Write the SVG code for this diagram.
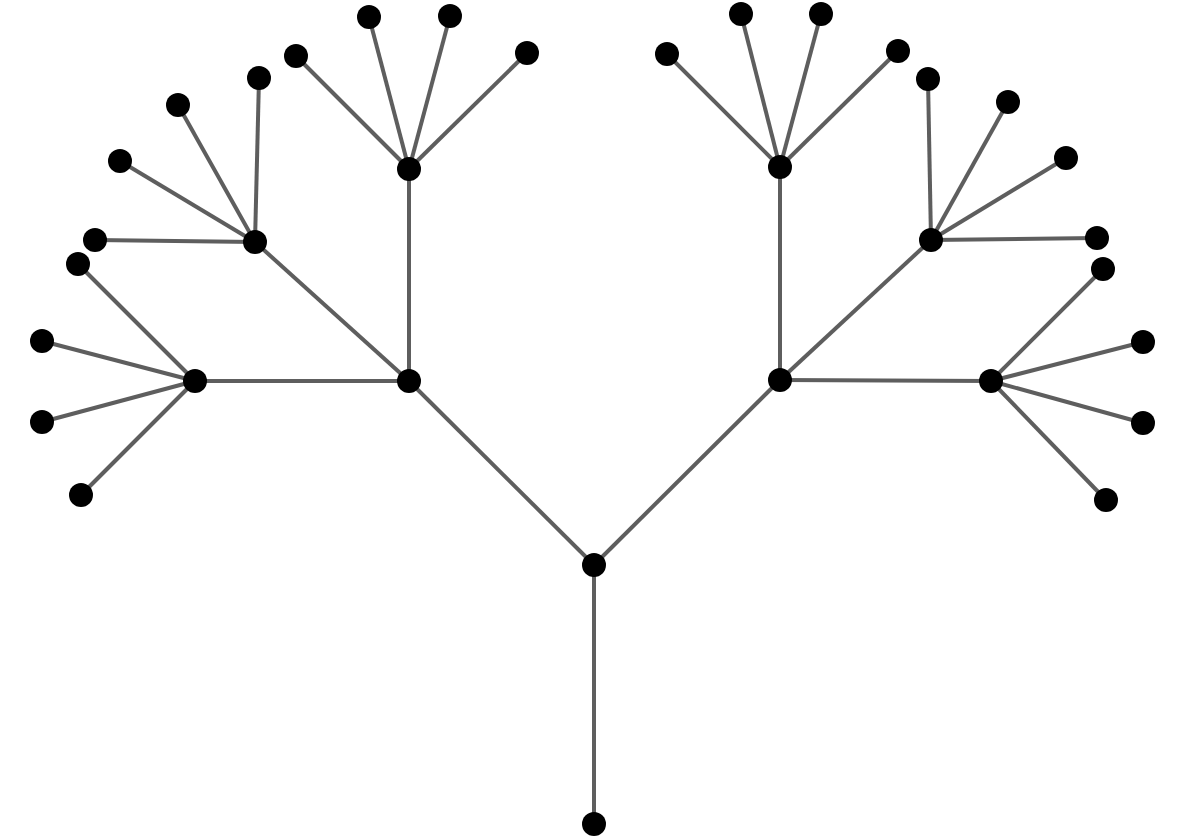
<svg xmlns="http://www.w3.org/2000/svg" width="1200" height="838" viewBox="0 0 1200 838">
<style>
.e{stroke:#5e5e5e;stroke-width:4;fill:none}
.n{fill:#000}
</style>
<rect width="1200" height="838" fill="#fff"/>
<g id="connectors" class="e">
<line x1="594" y1="824" x2="594" y2="565"/>
<line x1="594" y1="565" x2="409" y2="381"/>
<line x1="594" y1="565" x2="780" y2="380"/>
<line x1="409" y1="381" x2="409" y2="169"/>
<line x1="409" y1="381" x2="255" y2="242"/>
<line x1="409" y1="381" x2="195" y2="381"/>
<line x1="409" y1="169" x2="296" y2="56"/>
<line x1="409" y1="169" x2="369" y2="17"/>
<line x1="409" y1="169" x2="450" y2="16"/>
<line x1="409" y1="169" x2="527" y2="53"/>
<line x1="255" y1="242" x2="259" y2="78"/>
<line x1="255" y1="242" x2="178" y2="105"/>
<line x1="255" y1="242" x2="120" y2="161"/>
<line x1="255" y1="242" x2="95" y2="240"/>
<line x1="195" y1="381" x2="78" y2="264"/>
<line x1="195" y1="381" x2="42" y2="341"/>
<line x1="195" y1="381" x2="42" y2="422"/>
<line x1="195" y1="381" x2="81" y2="495"/>
<line x1="780" y1="380" x2="780" y2="167"/>
<line x1="780" y1="380" x2="931" y2="240"/>
<line x1="780" y1="380" x2="991" y2="381"/>
<line x1="780" y1="167" x2="667" y2="54"/>
<line x1="780" y1="167" x2="741" y2="14"/>
<line x1="780" y1="167" x2="821" y2="14"/>
<line x1="780" y1="167" x2="898" y2="51"/>
<line x1="931" y1="240" x2="928" y2="79"/>
<line x1="931" y1="240" x2="1008" y2="102"/>
<line x1="931" y1="240" x2="1066" y2="158"/>
<line x1="931" y1="240" x2="1097" y2="238"/>
<line x1="991" y1="381" x2="1103" y2="269"/>
<line x1="991" y1="381" x2="1143" y2="342"/>
<line x1="991" y1="381" x2="1143" y2="423"/>
<line x1="991" y1="381" x2="1106" y2="500"/>
</g>
<g id="nodes" class="n">
<circle id="n0" cx="594" cy="824" r="12"/>
<circle id="n1" cx="594" cy="565" r="12"/>
<circle id="n2" cx="409" cy="381" r="12"/>
<circle id="n3" cx="780" cy="380" r="12"/>
<circle id="n4" cx="409" cy="169" r="12"/>
<circle id="n5" cx="255" cy="242" r="12"/>
<circle id="n6" cx="195" cy="381" r="12"/>
<circle id="n7" cx="296" cy="56" r="12"/>
<circle id="n8" cx="369" cy="17" r="12"/>
<circle id="n9" cx="450" cy="16" r="12"/>
<circle id="n10" cx="527" cy="53" r="12"/>
<circle id="n11" cx="259" cy="78" r="12"/>
<circle id="n12" cx="178" cy="105" r="12"/>
<circle id="n13" cx="120" cy="161" r="12"/>
<circle id="n14" cx="95" cy="240" r="12"/>
<circle id="n15" cx="78" cy="264" r="12"/>
<circle id="n16" cx="42" cy="341" r="12"/>
<circle id="n17" cx="42" cy="422" r="12"/>
<circle id="n18" cx="81" cy="495" r="12"/>
<circle id="n19" cx="780" cy="167" r="12"/>
<circle id="n20" cx="931" cy="240" r="12"/>
<circle id="n21" cx="991" cy="381" r="12"/>
<circle id="n22" cx="667" cy="54" r="12"/>
<circle id="n23" cx="741" cy="14" r="12"/>
<circle id="n24" cx="821" cy="14" r="12"/>
<circle id="n25" cx="898" cy="51" r="12"/>
<circle id="n26" cx="928" cy="79" r="12"/>
<circle id="n27" cx="1008" cy="102" r="12"/>
<circle id="n28" cx="1066" cy="158" r="12"/>
<circle id="n29" cx="1097" cy="238" r="12"/>
<circle id="n30" cx="1103" cy="269" r="12"/>
<circle id="n31" cx="1143" cy="342" r="12"/>
<circle id="n32" cx="1143" cy="423" r="12"/>
<circle id="n33" cx="1106" cy="500" r="12"/>
</g>
</svg>
